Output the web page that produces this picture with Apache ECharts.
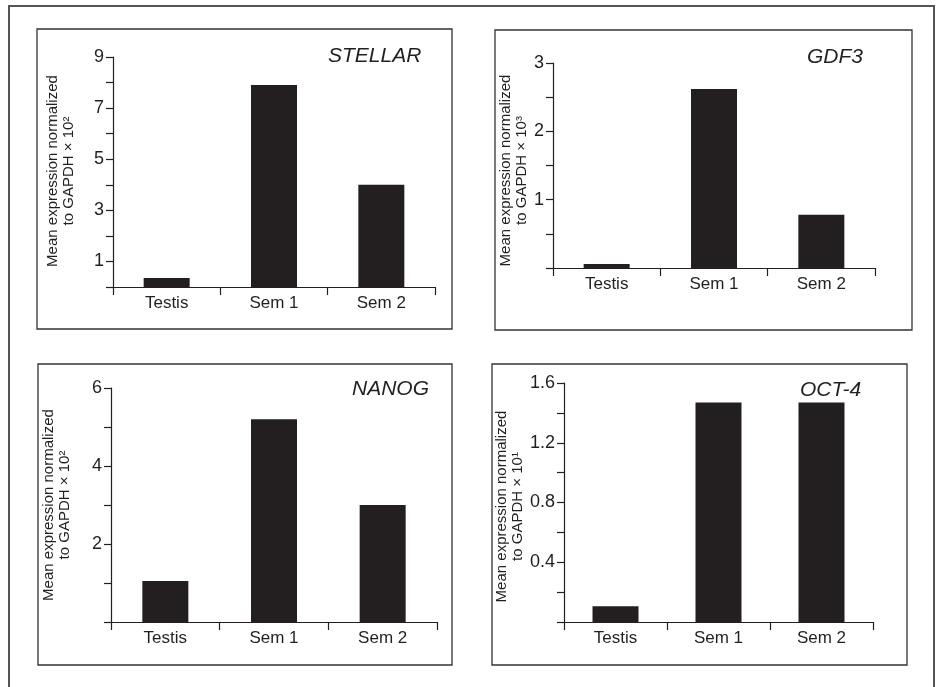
<!DOCTYPE html>
<html>
<head>
<meta charset="utf-8">
<script src="https://cdn.jsdelivr.net/npm/echarts@6/dist/echarts.min.js"></script>
<style>
html,body{margin:0;padding:0;background:#fff;}
#chart{width:940px;height:687px;}
</style>
</head>
<body>
<div id="chart"></div>
<script>
// ---- data ----
var categories = ['Testis', 'Sem 1', 'Sem 2'];
var panelTitles = ['STELLAR', 'GDF3', 'NANOG', 'OCT-4'];
var stellarValues = [0.35, 7.9, 4.0];
var gdf3Values = [0.06, 2.62, 0.78];
var nanogValues = [1.05, 5.2, 3.0];
var oct4Values = [0.105, 1.47, 1.47];
var stellarTickLabels = [1, 3, 5, 7, 9];
var gdf3TickLabels = [1, 2, 3];
var nanogTickLabels = [2, 4, 6];
var oct4TickLabels = [0.4, 0.8, 1.2, 1.6];
var yNames = [
  'Mean expression normalized\nto GAPDH \u00d7 10\u00b2',
  'Mean expression normalized\nto GAPDH \u00d7 10\u00b3',
  'Mean expression normalized\nto GAPDH \u00d7 10\u00b2',
  'Mean expression normalized\nto GAPDH \u00d7 10\u00b9'
];

var valuesList = [stellarValues, gdf3Values, nanogValues, oct4Values];
var tickLabelsList = [stellarTickLabels, gdf3TickLabels, nanogTickLabels, oct4TickLabels];
var axisRanges = [
  {max: 9, interval: 1},
  {max: 3, interval: 0.5},
  {max: 6, interval: 1},
  {max: 1.6, interval: 0.2}
];

// ---- layout ----
var grids = [
  {left: 113, top: 57, width: 322, height: 230},
  {left: 553, top: 63, width: 322, height: 205},
  {left: 111, top: 388, width: 326, height: 234},
  {left: 564, top: 383, width: 309, height: 239}
];
var nameGaps = [36, 20, 38, 36];
var namePads = [[0, 0, 0, 2], [0, 10, 0, 0], [0, 0, 0, 0], [0, 8, 0, 0]];
var titlePos = [
  {left: 328, top: 46},
  {left: 807, top: 47},
  {left: 352, top: 379},
  {left: 800, top: 380}
];
var boxes = [
  {x: 37, y: 29, w: 415, h: 300},
  {x: 495, y: 30, w: 417, h: 300},
  {x: 38, y: 364, w: 414, h: 301},
  {x: 492, y: 364, w: 415, h: 301}
];

var ink = '#231f20';
var font = '"Liberation Sans", Arial, Helvetica, sans-serif';

var option = {
  backgroundColor: '#fff',
  animation: false,
  textStyle: {fontFamily: font},
  title: panelTitles.map(function (t, i) {
    return {
      text: t, left: titlePos[i].left, top: titlePos[i].top, padding: 0,
      textStyle: {fontFamily: font, fontStyle: 'italic', fontWeight: 'normal', fontSize: 21, color: ink}
    };
  }),
  grid: grids.map(function (g) {
    return {left: g.left, top: g.top, width: g.width, height: g.height, containLabel: false};
  }),
  xAxis: grids.map(function (g, i) {
    return {
      type: 'category', gridIndex: i, data: categories,
      axisLine: {show: true, lineStyle: {color: ink, width: 1.2}},
      axisTick: {show: true, length: 8, lineStyle: {color: ink, width: 1.2}},
      axisLabel: {color: ink, fontSize: 17, margin: 8, fontFamily: font},
      splitLine: {show: false}
    };
  }),
  yAxis: grids.map(function (g, i) {
    var labs = tickLabelsList[i];
    return {
      type: 'value', gridIndex: i, min: 0, max: axisRanges[i].max, interval: axisRanges[i].interval,
      name: yNames[i], nameLocation: 'middle', nameRotate: 90, nameGap: nameGaps[i],
      nameTextStyle: {color: ink, fontSize: 15, lineHeight: 16, fontFamily: font, padding: namePads[i]},
      axisLine: {show: true, lineStyle: {color: ink, width: 1.2}},
      axisTick: {show: true, length: 7, lineStyle: {color: ink, width: 1.2}},
      axisLabel: {
        color: ink, fontSize: 18, margin: 9, fontFamily: font,
        formatter: function (v) {
          for (var k = 0; k < labs.length; k++) {
            if (Math.abs(labs[k] - v) < 1e-6) return String(labs[k]);
          }
          return '';
        }
      },
      splitLine: {show: false}
    };
  }),
  series: valuesList.map(function (vals, i) {
    return {
      type: 'bar', xAxisIndex: i, yAxisIndex: i, data: vals,
      barWidth: 46, itemStyle: {color: ink}
    };
  }),
  graphic: [
    {type: 'rect', shape: {x: 9, y: 6, width: 925, height: 720},
     style: {fill: 'none', stroke: '#555', lineWidth: 2}, silent: true}
  ].concat(boxes.map(function (b) {
    return {type: 'rect', shape: {x: b.x, y: b.y, width: b.w, height: b.h},
      style: {fill: 'none', stroke: '#333', lineWidth: 1.3}, silent: true};
  }))
};

var chart = echarts.init(document.getElementById('chart'), null, {renderer: 'canvas'});
chart.setOption(option);
</script>
</body>
</html>
